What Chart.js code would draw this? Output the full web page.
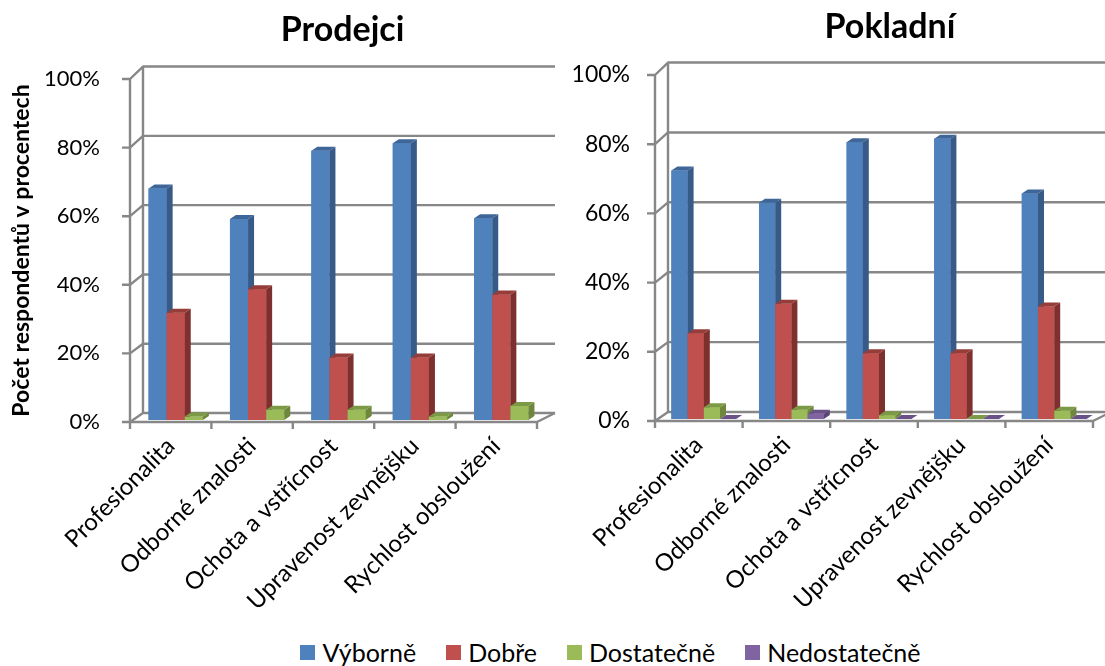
<!DOCTYPE html>
<html>
<head>
<meta charset="utf-8">
<script src="https://cdn.jsdelivr.net/npm/chart.js@4.4.0/dist/chart.umd.min.js"></script>
<style>
  html, body { margin: 0; padding: 0; background: #fff; width: 1105px; height: 666px; overflow: hidden; }
  #leftWrap { position: absolute; left: 0; top: 0; width: 560px; height: 630px; }
  #rightWrap { position: absolute; left: 560px; top: 0; width: 545px; height: 630px; }
  #legend { position: absolute; left: 58px; top: 637px; width: 1105px; height: 30px; display: flex; justify-content: center; align-items: center; font-family: Lato, sans-serif; font-size: 25px; color: #000; }
  .item { display: flex; align-items: center; margin: 0 15px; }
  .sw { width: 15px; height: 15px; margin-right: 7px; }
</style>
</head>
<body>
<div id="leftWrap"><canvas id="left" width="560" height="630"></canvas></div>
<div id="rightWrap"><canvas id="right" width="545" height="630"></canvas></div>
<div id="legend"></div>
<script>
// ---- data ----
const categories = ['Profesionalita', 'Odborné znalosti', 'Ochota a vstřícnost', 'Upravenost zevnějšku', 'Rychlost obsloužení'];
const seriesNames = ['Výborně', 'Dobře', 'Dostatečně', 'Nedostatečně'];
const seriesColors = ['#4F81BD', '#C0504D', '#9BBB59', '#8064A2'];
const sideColors = ['#375A87', '#7E302E', '#6E873C', '#5A4676'];
const topColors = ['#3E6699', '#963C39', '#7C9A46', '#6A5288'];

const prodejciVyborne = [67.5, 58.6, 78.5, 80.7, 58.8];
const prodejciDobre = [31.3, 38.1, 18.2, 18.2, 36.6];
const prodejciDostatecne = [1.0, 3.0, 3.0, 1.0, 4.1];

const pokladniVyborne = [71.8, 62.5, 80.0, 81.0, 65.2];
const pokladniDobre = [24.8, 33.3, 19.0, 19.0, 32.5];
const pokladniDostatecne = [3.4, 2.7, 1.1, 0, 2.4];
const pokladniNedostatecne = [0, 1.5, 0, 0, 0];

const yTickValues = [0, 20, 40, 60, 80, 100];
const chartTitles = ['Prodejci', 'Pokladní'];
const yAxisTitle = 'Počet respondentů v procentech';

// ---- plugins ----
const threeD = {
  id: 'threeD',
  beforeDatasetsDraw(chart, args, o) {
    const { ctx, chartArea, scales: { x, y } } = chart;
    const { left, right, top, bottom } = chartArea;
    const back = yf => bottom + o.wallDy + (yf - bottom) * o.persp;
    ctx.save();
    ctx.strokeStyle = o.gridColor;
    ctx.lineWidth = o.gridWidth;
    ctx.lineJoin = 'round';
    y.ticks.forEach(t => {
      const yf = y.getPixelForValue(t.value);
      const yb = back(yf);
      ctx.beginPath();
      ctx.moveTo(left - o.tickLen, yf);
      ctx.lineTo(left, yf);
      ctx.lineTo(left + o.wallDxL, yb);
      ctx.lineTo(right + o.wallDxR, yb);
      ctx.stroke();
    });
    ctx.beginPath();
    ctx.moveTo(left, y.getPixelForValue(y.max));
    ctx.lineTo(left, bottom);
    ctx.stroke();
    ctx.beginPath();
    ctx.moveTo(left + o.wallDxL, back(y.getPixelForValue(y.max)));
    ctx.lineTo(left + o.wallDxL, back(bottom));
    ctx.stroke();
    ctx.beginPath();
    ctx.moveTo(left, bottom);
    ctx.lineTo(right, bottom);
    ctx.lineTo(right + o.wallDxR, back(bottom));
    ctx.stroke();
    const n = x.ticks.length;
    for (let i = 0; i <= n; i++) {
      const px = left + (right - left) * i / n;
      ctx.beginPath();
      ctx.moveTo(px, bottom);
      ctx.lineTo(px, bottom + o.catTickLen);
      ctx.stroke();
    }
    ctx.restore();
    ctx.save();
    ctx.translate(o.barDx, o.barDy);
  },
  afterDatasetsDraw(chart, args, o) {
    const { ctx } = chart;
    const metas = chart.getSortedVisibleDatasetMetas().slice().sort((a, b) => a.index - b.index);
    const nCat = chart.data.labels.length;
    const dx = o.depthX, dy = o.depthY;
    for (let c = 0; c < nCat; c++) {
      metas.forEach(meta => {
        const el = meta.data[c];
        if (!el) return;
        const p = el.getProps(['x', 'y', 'base', 'width'], true);
        const l = p.x - p.width / 2, r = p.x + p.width / 2;
        const i = meta.index;
        ctx.fillStyle = seriesColors[i];
        ctx.fillRect(l, p.y, p.width, p.base - p.y);
        ctx.fillStyle = sideColors[i];
        ctx.beginPath();
        ctx.moveTo(r, p.y); ctx.lineTo(r + dx, p.y + dy); ctx.lineTo(r + dx, p.base + dy); ctx.lineTo(r, p.base);
        ctx.closePath(); ctx.fill();
        ctx.fillStyle = topColors[i];
        ctx.beginPath();
        ctx.moveTo(l, p.y); ctx.lineTo(l + dx, p.y + dy); ctx.lineTo(r + dx, p.y + dy); ctx.lineTo(r, p.y);
        ctx.closePath(); ctx.fill();
      });
    }
    ctx.restore();
  }
};

const panelTitle = {
  id: 'panelTitle',
  afterDraw(chart, args, o) {
    const { ctx, chartArea } = chart;
    ctx.save();
    ctx.font = o.font;
    ctx.fillStyle = '#000';
    ctx.textAlign = 'center';
    ctx.textBaseline = 'middle';
    ctx.fillText(o.text, (chartArea.left + chartArea.right) / 2 + o.offsetX, o.y);
    ctx.restore();
  }
};

function buildChart(canvasId, seriesArrays, cfg) {
  const datasets = seriesArrays.map((data, i) => ({
    label: seriesNames[i],
    data: data,
    backgroundColor: seriesColors[i],
    borderWidth: 0
  }));
  return new Chart(document.getElementById(canvasId), {
    type: 'bar',
    data: { labels: categories, datasets: datasets },
    plugins: [threeD, panelTitle],
    options: {
      responsive: false,
      animation: false,
      devicePixelRatio: 1,
      layout: { padding: { top: cfg.top, right: cfg.right, bottom: 0, left: 0 } },
      datasets: { bar: { categoryPercentage: cfg.catPct, barPercentage: 1 } },
      plugins: {
        legend: { display: false },
        title: { display: false },
        tooltip: { enabled: false },
        threeD: {
          gridColor: '#878787', gridWidth: 2.4, tickLen: 8, catTickLen: 7,
          wallDxL: 13, wallDxR: 18, wallDy: -9, persp: 1.01,
          depthX: 6, depthY: -4, barDx: 5, barDy: -2
        },
        panelTitle: { text: cfg.title, font: 'bold 34px Lato', offsetX: cfg.titleDx, y: cfg.titleY }
      },
      scales: {
        x: {
          grid: { display: false, drawTicks: false },
          border: { display: false },
          ticks: { color: '#000', font: { family: 'Lato', size: 24 }, minRotation: 45, maxRotation: 45, padding: cfg.xPad, autoSkip: false },
          afterFit: s => { s.height = 630 - cfg.bottom; }
        },
        y: {
          min: 0, max: 100,
          grid: { display: false, drawTicks: false },
          border: { display: false },
          afterBuildTicks: s => { s.ticks = yTickValues.map(v => ({ value: v })); },
          ticks: { color: '#000', font: { family: 'Lato', size: cfg.yFont }, padding: cfg.yPad, callback: v => v + '%' },
          title: cfg.yTitle ? { display: true, text: yAxisTitle, color: '#000', font: { family: 'Lato', size: 23, weight: 'bold' }, padding: { top: 8, bottom: 0 } } : { display: false },
          afterFit: s => { s.width = cfg.left; }
        }
      }
    }
  });
}

buildChart('left', [prodejciVyborne, prodejciDobre, prodejciDostatecne], {
  top: 79, right: 23, bottom: 422, left: 130, catPct: 0.667, title: chartTitles[0], titleDx: 9, titleY: 30,
  xPad: 10, yFont: 22, yPad: 30, yTitle: true
});
buildChart('right', [pokladniVyborne, pokladniDobre, pokladniDostatecne, pokladniNedostatecne], {
  top: 75, right: 12, bottom: 421, left: 95, catPct: 0.74, title: chartTitles[1], titleDx: 16, titleY: 27,
  xPad: 10, yFont: 23, yPad: 25, yTitle: false
});

// legend
const legendEl = document.getElementById('legend');
seriesNames.forEach((name, i) => {
  const item = document.createElement('div');
  item.className = 'item';
  const sw = document.createElement('div');
  sw.className = 'sw';
  sw.style.background = seriesColors[i];
  const tx = document.createElement('span');
  tx.textContent = name;
  item.appendChild(sw);
  item.appendChild(tx);
  legendEl.appendChild(item);
});
</script>
</body>
</html>
